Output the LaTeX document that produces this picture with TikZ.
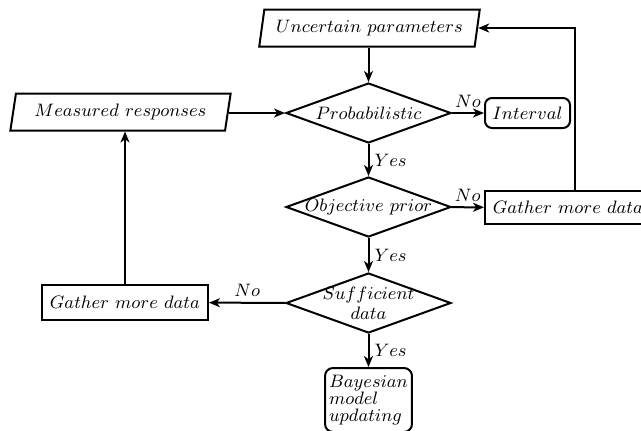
\documentclass[tikz,border=0pt]{standalone}
\usetikzlibrary{shapes.geometric,arrows.meta}
\begin{document}
\begin{tikzpicture}[x=0.5pt,y=-0.5pt,
  line width=1pt,
  font={\fontsize{9}{10.8}\selectfont},
  >={Stealth[length=5.5pt,width=4.5pt,inset=1.6pt]},
  para/.style={draw,trapezium,trapezium left angle=74,trapezium right angle=106,
    trapezium stretches=true,minimum width=110.5pt,minimum height=18.5pt,inner sep=0pt},
  decide/.style={draw,diamond,minimum width=82.5pt,minimum height=30pt,inner sep=0pt,align=center},
  term/.style={draw,rounded corners=3.5pt,inner sep=0pt},
  proc/.style={draw,inner sep=0pt,minimum width=83pt},
  lab/.style={inner sep=2.5pt}]
\useasboundingbox (0,0) rectangle (641,430);
\node[para] (up) at (369.5,28) {$Uncertain\ parameters$};
\node[para] (meas) at (120.5,112) {$Measured\ responses$};
\node[decide] (prob) at (368.5,113) {\makebox[0pt]{$Probabilistic$}};
\node[term,minimum width=42.5pt,minimum height=15pt] (intv) at (527.5,113) {$Interval$};
\node[decide] (obj) at (368.5,207) {\makebox[0pt]{$Objective\ prior$}};
\node[proc,minimum height=16.5pt] (gr) at (568,207.5) {$Gather\ more\ data$};
\node[decide] (suff) at (368.5,303) {\makebox[0pt]{$Sufficient$}\\[-1pt]\makebox[0pt]{$data$}};
\node[proc,minimum height=17.5pt] (gl) at (125,302.5) {$Gather\ more\ data$};
\node[term,minimum width=41.5pt,minimum height=32pt,rounded corners=4pt,align=left,
  inner xsep=2pt,font={\fontsize{9}{8.5}\selectfont}] (bay) at (368.5,400)
  {$Bayesian$\\$model$\\$updating$};
\draw[->] (up.south -| prob.north) -- (prob.north);
\draw[->] (meas.east |- prob.west) -- (prob.west);
\draw[->] (prob) -- node[lab,above] {$No$} (intv);
\draw[->] (prob) -- node[lab,right] {$Yes$} (obj);
\draw[->] (obj) -- node[lab,above] {$No$} (gr);
\draw[->] (obj) -- node[lab,right] {$Yes$} (suff);
\draw[->] (suff) -- node[lab,above] {$No$} (gl);
\draw[->] (suff) -- node[lab,right] {$Yes$} (bay);
\draw[->] (gl.north) -- (gl.north |- meas.south);
\coordinate (grtop) at ([xshift=3.5pt]gr.north);
\draw[->] (grtop) |- (up.east);
\end{tikzpicture}
\end{document}
